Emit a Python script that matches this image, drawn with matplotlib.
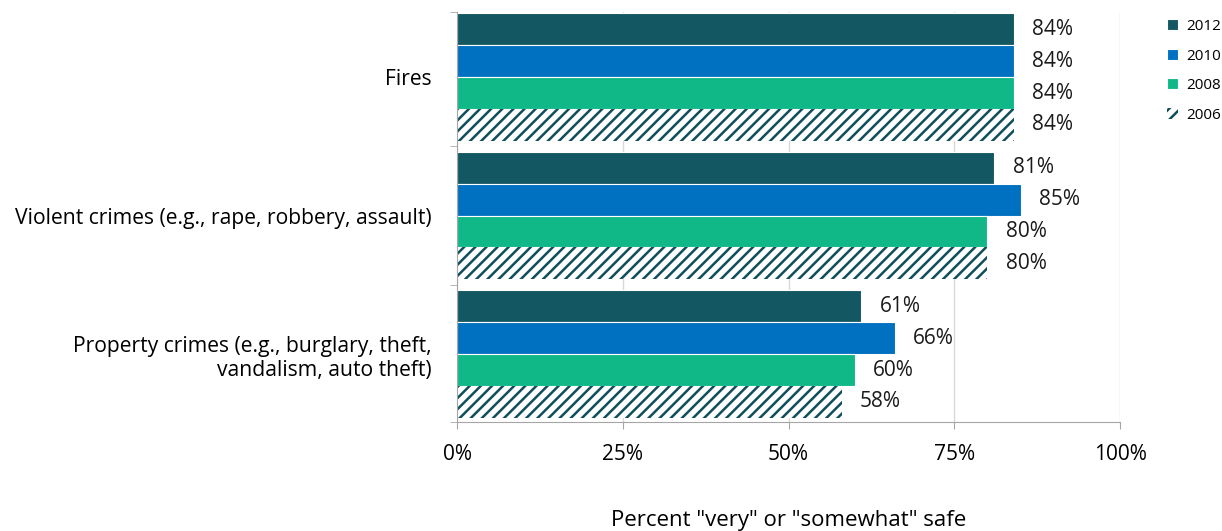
import matplotlib
matplotlib.use('Agg')
import matplotlib.pyplot as plt
import numpy as np

plt.rcParams['font.family'] = ['Open Sans', 'DejaVu Sans']
plt.rcParams['hatch.linewidth'] = 1.8
plt.rcParams['hatch.color'] = '#0f4f5c'

categories = ['Fires', 'Violent crimes (e.g., rape, robbery, assault)',
              'Property crimes (e.g., burglary, theft,\nvandalism, auto theft)']
years = ['2012', '2010', '2008', '2006']
values = {
    '2012': [84, 81, 61],
    '2010': [84, 85, 66],
    '2008': [84, 80, 60],
    '2006': [84, 80, 58],
}
colors = {'2012': '#135762', '2010': '#0070c0', '2008': '#10b887', '2006': 'white'}
xticks = [0, 25, 50, 75, 100]

fig = plt.figure(figsize=(12.22, 5.31), dpi=100)
ax = fig.add_axes([457 / 1222, 1 - 422 / 531, (1120 - 457) / 1222, (422 - 12) / 531])

y = np.arange(len(categories))
h = 0.23
for i, yr in enumerate(years):
    pos = y - 1.5 * h + i * h
    if yr == '2006':
        ax.barh(pos, values[yr], height=h, color='white', hatch='///',
                edgecolor='#0f4f5c', linewidth=0, label=yr)
    else:
        ax.barh(pos, values[yr], height=h, color=colors[yr],
                edgecolor='white', linewidth=0.8, label=yr)
    for p, v in zip(pos, values[yr]):
        ax.text(v + 2.8, p, f'{v}%', va='center', ha='left', fontsize=15, color='#1a1a1a')

ax.set_xlim(0, 100)
ax.set_ylim(2.49, -0.47)
ax.set_xticks(xticks)
ax.set_xticklabels([f'{t}%' for t in xticks], fontsize=15)
ax.set_yticks(y)
ax.set_yticklabels(categories, fontsize=15.2)
ax.set_yticks([-0.47, 0.5, 1.5, 2.49], minor=True)
ax.tick_params(axis='y', which='major', length=0, pad=18)
ax.tick_params(axis='y', which='minor', length=5, color='#a6a6a6')
ax.tick_params(axis='x', length=5, color='#a6a6a6', pad=11)
ax.xaxis.grid(True, color='#d9d9d9', linewidth=1)
ax.set_axisbelow(True)
for s in ['top', 'right']:
    ax.spines[s].set_visible(False)
for s in ['left', 'bottom']:
    ax.spines[s].set_color('#a6a6a6')
ax.set_xlabel('Percent "very" or "somewhat" safe', fontsize=16, labelpad=32)

leg = ax.legend(loc='upper left', bbox_to_anchor=(1167 / 1222, 1 - 19 / 531),
                bbox_transform=fig.transFigure, frameon=False, fontsize=11,
                handlelength=0.7, handleheight=0.7, handletextpad=0.55,
                labelspacing=0.95, borderpad=0, borderaxespad=0)

fig.savefig('out.png', dpi=100)
